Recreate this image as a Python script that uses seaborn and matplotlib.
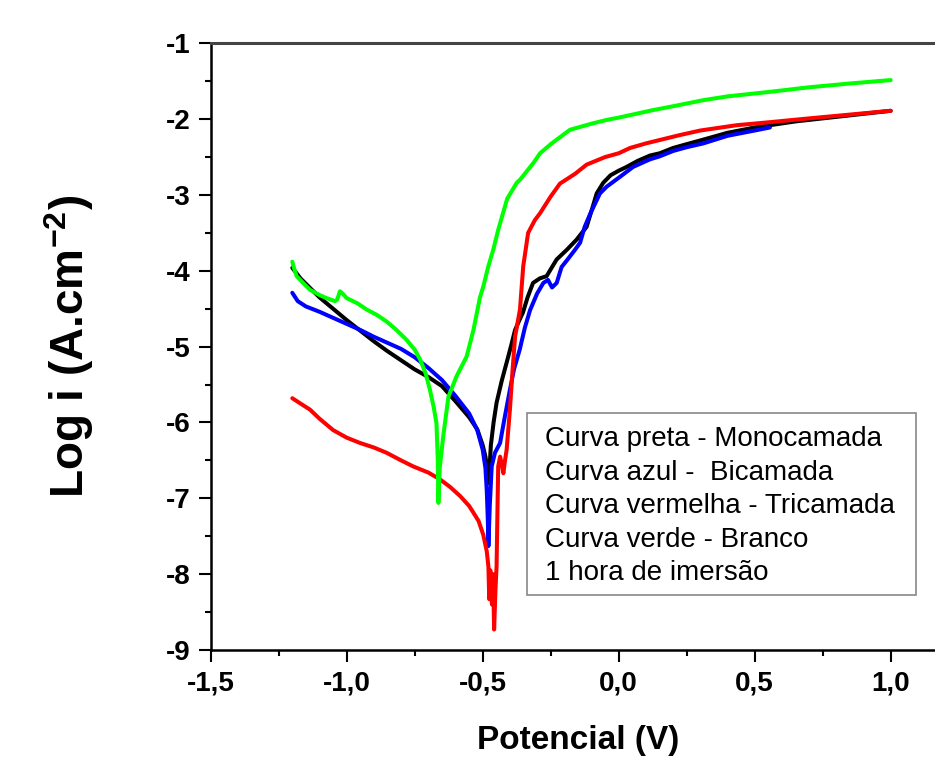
import matplotlib
matplotlib.use("Agg")
import matplotlib.pyplot as plt
from matplotlib.ticker import MultipleLocator
from matplotlib.patches import Rectangle
import seaborn as sns
import pandas as pd

# ---------------- data ----------------
black_x = [-1.2, -1.17, -1.1, -1.05, -1.0, -0.95, -0.9, -0.85, -0.8, -0.75, -0.7, -0.65,
           -0.6, -0.55, -0.52, -0.5, -0.49, -0.482, -0.478, -0.47, -0.46, -0.449, -0.43,
           -0.412, -0.395, -0.381, -0.365, -0.352, -0.335, -0.315, -0.29, -0.265, -0.245,
           -0.228, -0.19, -0.155, -0.118, -0.095, -0.081, -0.057, -0.03, 0.0, 0.029, 0.07,
           0.115, 0.151, 0.2, 0.25, 0.311, 0.4, 0.5, 0.556, 0.65, 0.75, 0.85, 0.95, 1.0]
black_y = [-3.96, -4.1, -4.35, -4.5, -4.65, -4.79, -4.93, -5.06, -5.18, -5.3, -5.4, -5.52,
           -5.72, -5.93, -6.09, -6.3, -6.45, -6.65, -6.8, -6.3, -6.0, -5.74, -5.45,
           -5.21, -4.98, -4.78, -4.65, -4.55, -4.35, -4.16, -4.1, -4.07, -3.95,
           -3.85, -3.72, -3.59, -3.42, -3.15, -2.98, -2.84, -2.74, -2.68, -2.63, -2.55,
           -2.48, -2.45, -2.38, -2.33, -2.27, -2.18, -2.11, -2.08, -2.03, -1.99, -1.95, -1.91, -1.89]

blue_x = [-1.2, -1.18, -1.15, -1.1, -1.05, -1.0, -0.95, -0.9, -0.85, -0.8, -0.75, -0.7,
          -0.65, -0.6, -0.55, -0.52, -0.5, -0.49, -0.485, -0.481, -0.479, -0.474, -0.467,
          -0.455, -0.436, -0.42, -0.4, -0.385, -0.364, -0.345, -0.326, -0.3, -0.277, -0.26,
          -0.245, -0.228, -0.21, -0.19, -0.16, -0.142, -0.125, -0.105, -0.069, -0.044,
          0.005, 0.053, 0.115, 0.151, 0.2, 0.25, 0.311, 0.4, 0.5, 0.556]
blue_y = [-4.29, -4.4, -4.47, -4.54, -4.62, -4.7, -4.78, -4.87, -4.95, -5.03, -5.14, -5.28,
          -5.44, -5.65, -5.88, -6.1, -6.36, -6.6, -6.9, -7.3, -7.63, -7.1, -6.58,
          -6.4, -6.27, -5.95, -5.57, -5.3, -5.04, -4.75, -4.52, -4.3, -4.16, -4.12,
          -4.22, -4.16, -3.95, -3.86, -3.72, -3.63, -3.42, -3.25, -2.98, -2.89,
          -2.76, -2.63, -2.53, -2.49, -2.42, -2.37, -2.32, -2.22, -2.15, -2.11]

red_x = [-1.2, -1.17, -1.135, -1.1, -1.05, -1.0, -0.951, -0.9, -0.853, -0.8, -0.755, -0.7,
         -0.657, -0.62, -0.583, -0.55, -0.534, -0.515, -0.498, -0.485, -0.479, -0.476,
         -0.472, -0.466, -0.462, -0.458, -0.453, -0.449, -0.445, -0.443, -0.436, -0.43,
         -0.424, -0.418, -0.412, -0.4, -0.39, -0.381, -0.363, -0.351, -0.333, -0.308,
         -0.289, -0.25, -0.216, -0.16, -0.118, -0.05, 0.0, 0.042, 0.1, 0.225, 0.3, 0.434,
         0.556, 0.7, 0.85, 1.0]
red_y = [-5.68, -5.75, -5.83, -5.95, -6.1, -6.2, -6.27, -6.33, -6.4, -6.5, -6.58, -6.66,
         -6.75, -6.85, -6.97, -7.1, -7.19, -7.3, -7.48, -7.7, -7.9, -8.33,
         -7.95, -8.4, -8.0, -8.73, -8.2, -7.9, -7.0, -6.58, -6.45, -6.55,
         -6.67, -6.5, -6.36, -5.83, -5.3, -4.87, -4.51, -3.94, -3.5, -3.33,
         -3.24, -3.02, -2.85, -2.72, -2.6, -2.5, -2.45, -2.38, -2.32, -2.21, -2.15, -2.08,
         -2.04, -1.99, -1.94, -1.89]

green_x = [-1.2, -1.195, -1.184, -1.16, -1.135, -1.1, -1.074, -1.043, -1.035, -1.025,
           -1.015, -1.0, -0.96, -0.927, -0.89, -0.853, -0.82, -0.78, -0.75, -0.73, -0.71,
           -0.694, -0.68, -0.67, -0.665, -0.663, -0.658, -0.645, -0.626, -0.596, -0.559,
           -0.534, -0.51, -0.498, -0.48, -0.461, -0.443, -0.41, -0.375, -0.363, -0.314,
           -0.289, -0.25, -0.179, -0.1, -0.044, 0.0, 0.127, 0.2, 0.311, 0.4, 0.556, 0.7,
           0.85, 1.0]
green_y = [-3.88, -3.95, -4.07, -4.16, -4.25, -4.32, -4.36, -4.4, -4.38, -4.27,
           -4.3, -4.36, -4.43, -4.51, -4.58, -4.67, -4.77, -4.91, -5.04, -5.17, -5.35,
           -5.57, -5.8, -6.01, -6.5, -7.06, -6.6, -6.18, -5.66, -5.39, -5.13,
           -4.78, -4.35, -4.21, -3.95, -3.72, -3.46, -3.05, -2.84, -2.8, -2.58,
           -2.45, -2.33, -2.14, -2.06, -2.01, -1.98, -1.88, -1.83, -1.75, -1.7, -1.64, -1.58,
           -1.53, -1.485]

curve_names = ["Monocamada", "Bicamada", "Tricamada", "Branco"]
curve_colors = ["#000000", "#0000FF", "#FF0000", "#00FF00"]

x_ticks = [-1.5, -1.0, -0.5, 0.0, 0.5, 1.0]
x_tick_labels = ["-1,5", "-1,0", "-0,5", "0,0", "0,5", "1,0"]
y_ticks = [-1, -2, -3, -4, -5, -6, -7, -8, -9]
y_tick_labels = ["-1", "-2", "-3", "-4", "-5", "-6", "-7", "-8", "-9"]

legend_lines = ["Curva preta - Monocamada",
                "Curva azul -  Bicamada",
                "Curva vermelha - Tricamada",
                "Curva verde - Branco",
                "1 hora de imersão"]

x_label = "Potencial (V)"
y_label = r"Log i (A.cm$^{\mathbf{-2}}$)"

# ---------------- build long table ----------------
frames = []
for name, xs, ys in zip(curve_names,
                        [black_x, blue_x, red_x, green_x],
                        [black_y, blue_y, red_y, green_y]):
    frames.append(pd.DataFrame({"E": xs, "logi": ys, "curva": name}))
df = pd.concat(frames, ignore_index=True)

# ---------------- style ----------------
sns.set_style("white")
plt.rcParams["font.family"] = ["Liberation Sans", "DejaVu Sans"]
plt.rcParams["mathtext.fontset"] = "custom"
plt.rcParams["mathtext.rm"] = "Liberation Sans"
plt.rcParams["mathtext.bf"] = "Liberation Sans:bold"
for key in ["text.color", "axes.labelcolor", "xtick.color", "ytick.color"]:
    plt.rcParams[key] = "black"

W, H = 935, 757
fig = plt.figure(figsize=(W / 100, H / 100), dpi=100)
ax_left, ax_bottom = 210.7, 650.0
ax_top = 43.3
x_min, x_max = -1.5, 1.2
px_per_unit = 272.0
ax = fig.add_axes([ax_left / W, (H - ax_bottom) / H,
                   (x_max - x_min) * px_per_unit / W, (ax_bottom - ax_top) / H])

sns.lineplot(data=df, x="E", y="logi", hue="curva", hue_order=curve_names,
             palette=dict(zip(curve_names, curve_colors)), sort=False,
             estimator=None, units="curva", linewidth=2.9, legend=False, ax=ax)

ax.set_xlim(x_min, x_max)
ax.set_ylim(-9, -1)

ax.set_xticks(x_ticks, x_tick_labels)
ax.set_yticks(y_ticks, y_tick_labels)
ax.xaxis.set_minor_locator(MultipleLocator(0.25))
ax.yaxis.set_minor_locator(MultipleLocator(0.5))
ax.tick_params(which="major", direction="out", length=8.5, width=1.5, color="black",
               labelcolor="black", labelsize=20, pad=6, bottom=True, left=True,
               top=False, right=False)
ax.tick_params(which="minor", direction="out", length=4.3, width=1.5, color="black",
               bottom=True, left=True, top=False, right=False)
for lab in ax.get_xticklabels() + ax.get_yticklabels():
    lab.set_fontweight("bold")

for s in ["left", "bottom"]:
    ax.spines[s].set_color("black")
    ax.spines[s].set_linewidth(1.8)
ax.spines["top"].set_color("#444444")
ax.spines["top"].set_linewidth(2.2)
ax.spines["right"].set_visible(False)

ax.set_xlabel(x_label, fontsize=24, fontweight="bold", labelpad=21, color="black")
ax.set_ylabel(y_label, fontsize=33, fontweight="bold", labelpad=50, color="black")

# legend-like annotation box
box_l, box_t, box_r, box_b = 527, 413, 916, 595
fig.patches.append(Rectangle((box_l / W, 1 - box_b / H), (box_r - box_l) / W,
                             (box_b - box_t) / H, transform=fig.transFigure,
                             facecolor="white", edgecolor="#888888", linewidth=1.2,
                             zorder=5))
fig.text(545 / W, 1 - 426 / H, "\n".join(legend_lines), fontsize=20, color="black",
         ha="left", va="top", linespacing=1.38, zorder=6)

fig.savefig("out.png", dpi=100)
